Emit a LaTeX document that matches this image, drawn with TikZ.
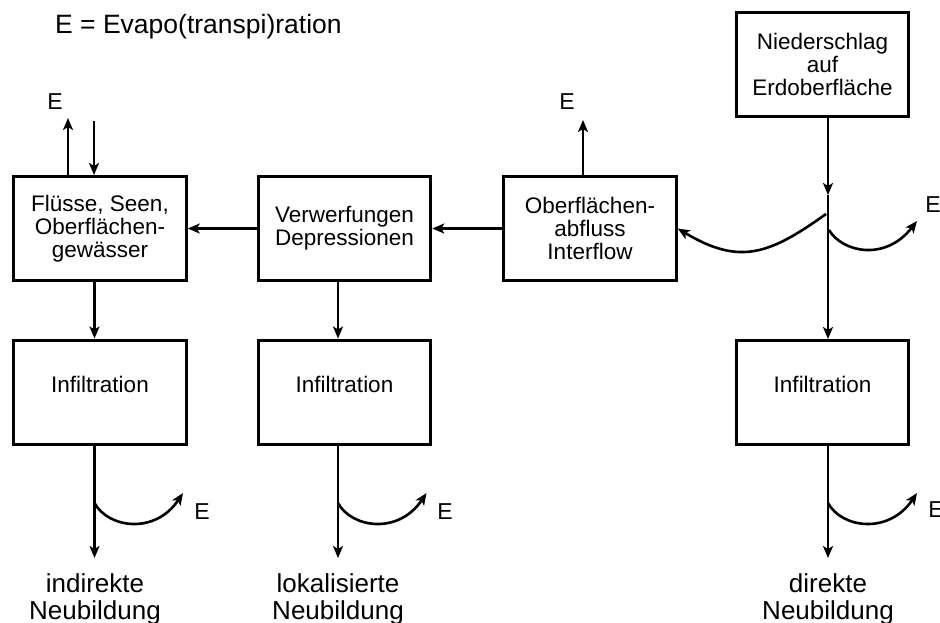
\documentclass[tikz,border=0pt]{standalone}
\usepackage{fontspec}
\setmainfont{Liberation Sans}
\usetikzlibrary{positioning}
\usetikzlibrary{arrows.meta}
\tikzset{
    box/.style={
        draw,
        line width=3pt,
        minimum width=172.5pt,
        minimum height=104pt,
        align=center,
        font=\fontsize{22.5}{23}\selectfont
    },
    infil/.style={
        box,
        text depth=16pt
    },
    elabel/.style={
        inner sep=0pt,
        font=\fontsize{23}{25}\selectfont
    },
    result/.style={
        align=center,
        anchor=north,
        inner sep=0pt,
        font=\fontsize{26}{27}\selectfont
    },
    flow/.style={
        draw,
        -{Stealth[length=12pt,width=10pt,inset=3pt]},
        line width=2.6pt
    }
}
\begin{document}
\begin{tikzpicture}[x=1pt, y=-1pt]
                    \useasboundingbox (0,0) rectangle (940,622);
                    \node[anchor=base west, inner sep=0pt, font=\fontsize{26.5}{28}\selectfont] (title) at (55,33) {E = Evapo(transpi)ration};

                    \node[box] (F) at (100,228.5) {Flüsse, Seen,\\Oberflächen-\\gewässer};
                    \node[box, right=69pt of F] (V) {Verwerfungen\\Depressionen};
                    \node[box, right=70pt of V] (O) {Oberflächen-\\abfluss\\Interflow};
                    \node[box] (N) at (822.5,64.5) {Niederschlag\\auf\\Erdoberfläche};
                    \node[infil, below=56.5pt of F] (I1) {Infiltration};
                    \node[infil, below=56.5pt of V] (I2) {Infiltration};
                    \node[infil, below=221pt of N] (I3) {Infiltration};

                    \node[elabel] (E1) at (55,102) {E};
                    \node[elabel] (E2) at (567,102) {E};
                    \node[elabel] (E3) at (933,205) {E};
                    \node[elabel] (E4) at (202,512) {E};
                    \node[elabel] (E5) at (445,512) {E};
                    \node[elabel] (E6) at (936,510) {E};

                    \node[result] (R1) at (95,573) {indirekte\\Neubildung};
                    \node[result] (R2) at (338,573) {lokalisierte\\Neubildung};
                    \node[result] (R3) at (828,573) {direkte\\Neubildung};

                    \coordinate (inF) at (94,121);
                    \coordinate (upF) at (68,118);
                    \coordinate (upO) at (583,120);
                    \coordinate (j1) at (828,195);
                    \coordinate (s1) at (826,214);
                    \coordinate (s2) at (829,230);
                    \coordinate (t2) at (917,221);
                    \coordinate (d1) at (94.5,558);
                    \coordinate (d2) at (338,558);
                    \coordinate (d3) at (828,558);
                    \coordinate (h1) at (94.5,503);
                    \coordinate (h2) at (338,503);
                    \coordinate (h3) at (828,503);

                    \draw[flow] (inF) -- (F.north -| inF);
                    \draw[flow] (F.north -| upF) -- (upF);
                    \draw[flow] (O.north -| upO) -- (upO);
                    \draw[flow] (V.west) -- (V.west -| F.east);
                    \draw[flow] (O.west) -- (O.west -| V.east);
                    \draw[flow] (N.south -| j1) -- (j1);
                    \draw[flow] (j1) -- (I3.north -| j1);
                    \draw[flow] (s1) .. controls (770,254) and (740,266) .. (O.east);
                    \draw[flow] (s2) .. controls (842,252) and (885,262) .. (t2);

                    \draw[flow] (F.south -| d1) -- (I1.north -| d1);
                    \draw[flow] (V.south -| d2) -- (I2.north -| d2);
                    \draw[flow] (I1.south -| d1) -- (d1);
                    \draw[flow] (I2.south -| d2) -- (d2);
                    \draw[flow] (I3.south -| d3) -- (d3);
                    \draw[flow] (h1) .. controls (108,528) and (155,535) .. (183,493);
                    \draw[flow] (h2) .. controls (351.5,528) and (398.5,535) .. (426.5,493);
                    \draw[flow] (h3) .. controls (841.5,528) and (888.5,535) .. (917,493);

                \end{tikzpicture}
\end{document}
